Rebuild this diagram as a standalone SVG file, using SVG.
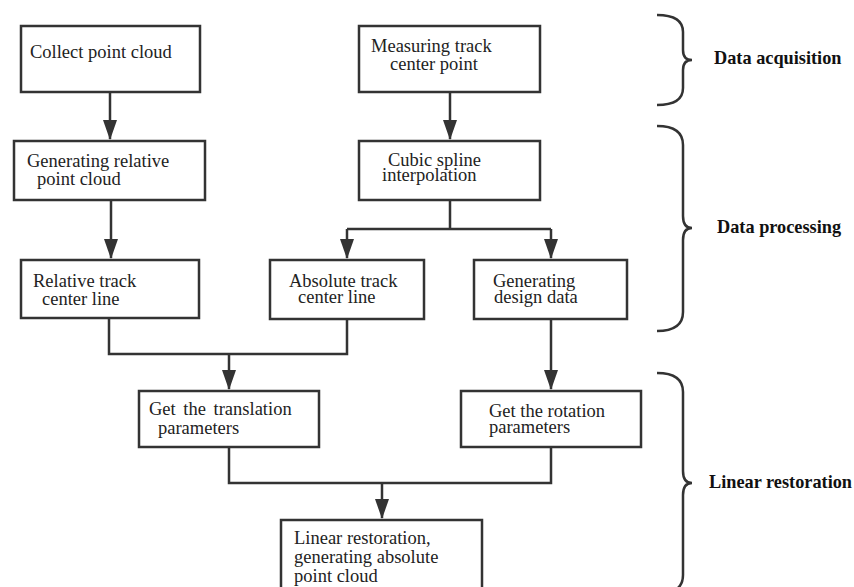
<svg xmlns="http://www.w3.org/2000/svg" width="854" height="587" viewBox="0 0 854 587">
<defs>
<style>
.box{fill:#fff;stroke:#333;stroke-width:2.5}
.t{font-family:"Liberation Serif","DejaVu Serif",serif;font-size:18.5px;fill:#222}
.lab{font-family:"Liberation Serif","DejaVu Serif",serif;font-size:18.3px;font-weight:bold;fill:#111}
.ln{fill:none;stroke:#333;stroke-width:2.5}
.br{fill:none;stroke:#333;stroke-width:2.5}
</style>
<marker id="ah" markerUnits="userSpaceOnUse" markerWidth="20" markerHeight="14" viewBox="0 0 20 14" refX="19" refY="7" orient="auto">
<path d="M0,0 L20,7 L0,14 Z" fill="#333"/>
</marker>
</defs>
<rect width="854" height="587" fill="#fff"/>
<g id="connectors">
<path class="ln" d="M110,92 V139" marker-end="url(#ah)"/>
<path class="ln" d="M450,92 V139" marker-end="url(#ah)"/>
<path class="ln" d="M111,200 V258" marker-end="url(#ah)"/>
<path class="ln" d="M450,200 V229 M347,229 H551"/>
<path class="ln" d="M347,229 V258" marker-end="url(#ah)"/>
<path class="ln" d="M551,229 V258" marker-end="url(#ah)"/>
<path class="ln" d="M109,318 V354 H347 V319"/>
<path class="ln" d="M229,354 V389" marker-end="url(#ah)"/>
<path class="ln" d="M551,319 V389" marker-end="url(#ah)"/>
<path class="ln" d="M229,447 V483 H551 V447"/>
<path class="ln" d="M382,483 V518" marker-end="url(#ah)"/>
</g>
<g id="n1"><rect class="box" x="21" y="26" width="179" height="66"/><text class="t" x="30" y="58">Collect point cloud</text></g>
<g id="n2"><rect class="box" x="359" y="26" width="181" height="66"/><text class="t" x="371" y="52">Measuring track</text><text class="t" x="390" y="70">center point</text></g>
<g id="n3"><rect class="box" x="14" y="141" width="191" height="59"/><text class="t" x="27" y="167">Generating relative</text><text class="t" x="37" y="185">point cloud</text></g>
<g id="n4"><rect class="box" x="359" y="141" width="181" height="59"/><text class="t" x="388" y="166">Cubic spline</text><text class="t" x="382" y="181">interpolation</text></g>
<g id="n5"><rect class="box" x="21" y="260" width="178" height="58"/><text class="t" x="33" y="287">Relative track</text><text class="t" x="42" y="305">center line</text></g>
<g id="n6"><rect class="box" x="270" y="260" width="154" height="59"/><text class="t" x="289" y="287">Absolute track</text><text class="t" x="298" y="303">center line</text></g>
<g id="n7"><rect class="box" x="474" y="260" width="153" height="59"/><text class="t" x="493" y="287">Generating</text><text class="t" x="494" y="303">design data</text></g>
<g id="n8"><rect class="box" x="139" y="391" width="180" height="56"/><text class="t" x="149" y="415" word-spacing="3">Get the translation</text><text class="t" x="158" y="434">parameters</text></g>
<g id="n9"><rect class="box" x="461" y="391" width="180" height="56"/><text class="t" x="489" y="417">Get the rotation</text><text class="t" x="489" y="433">parameters</text></g>
<g id="n10"><rect class="box" x="281" y="520" width="201" height="80"/><text class="t" x="294" y="544">Linear restoration,</text><text class="t" x="294" y="563">generating absolute</text><text class="t" x="294" y="582">point cloud</text></g>
<g id="stages">
<path class="br" d="M657,15 Q683,15 683,32 V50 Q683,60 692,60 Q683,60 683,70 V88 Q683,105 657,105"/>
<text class="lab" x="714" y="64">Data acquisition</text>
<path class="br" d="M657,126 Q683,126 683,145 V216 Q683,228 692,228 Q683,228 683,240 V312 Q683,331 657,331"/>
<text class="lab" x="717" y="233">Data processing</text>
<path class="br" d="M657,373 Q683,373 683,392 V471 Q683,483 692,483 Q683,483 683,495 V575 Q683,594 657,594"/>
<text class="lab" x="709" y="488">Linear restoration</text>
</g>
</svg>
